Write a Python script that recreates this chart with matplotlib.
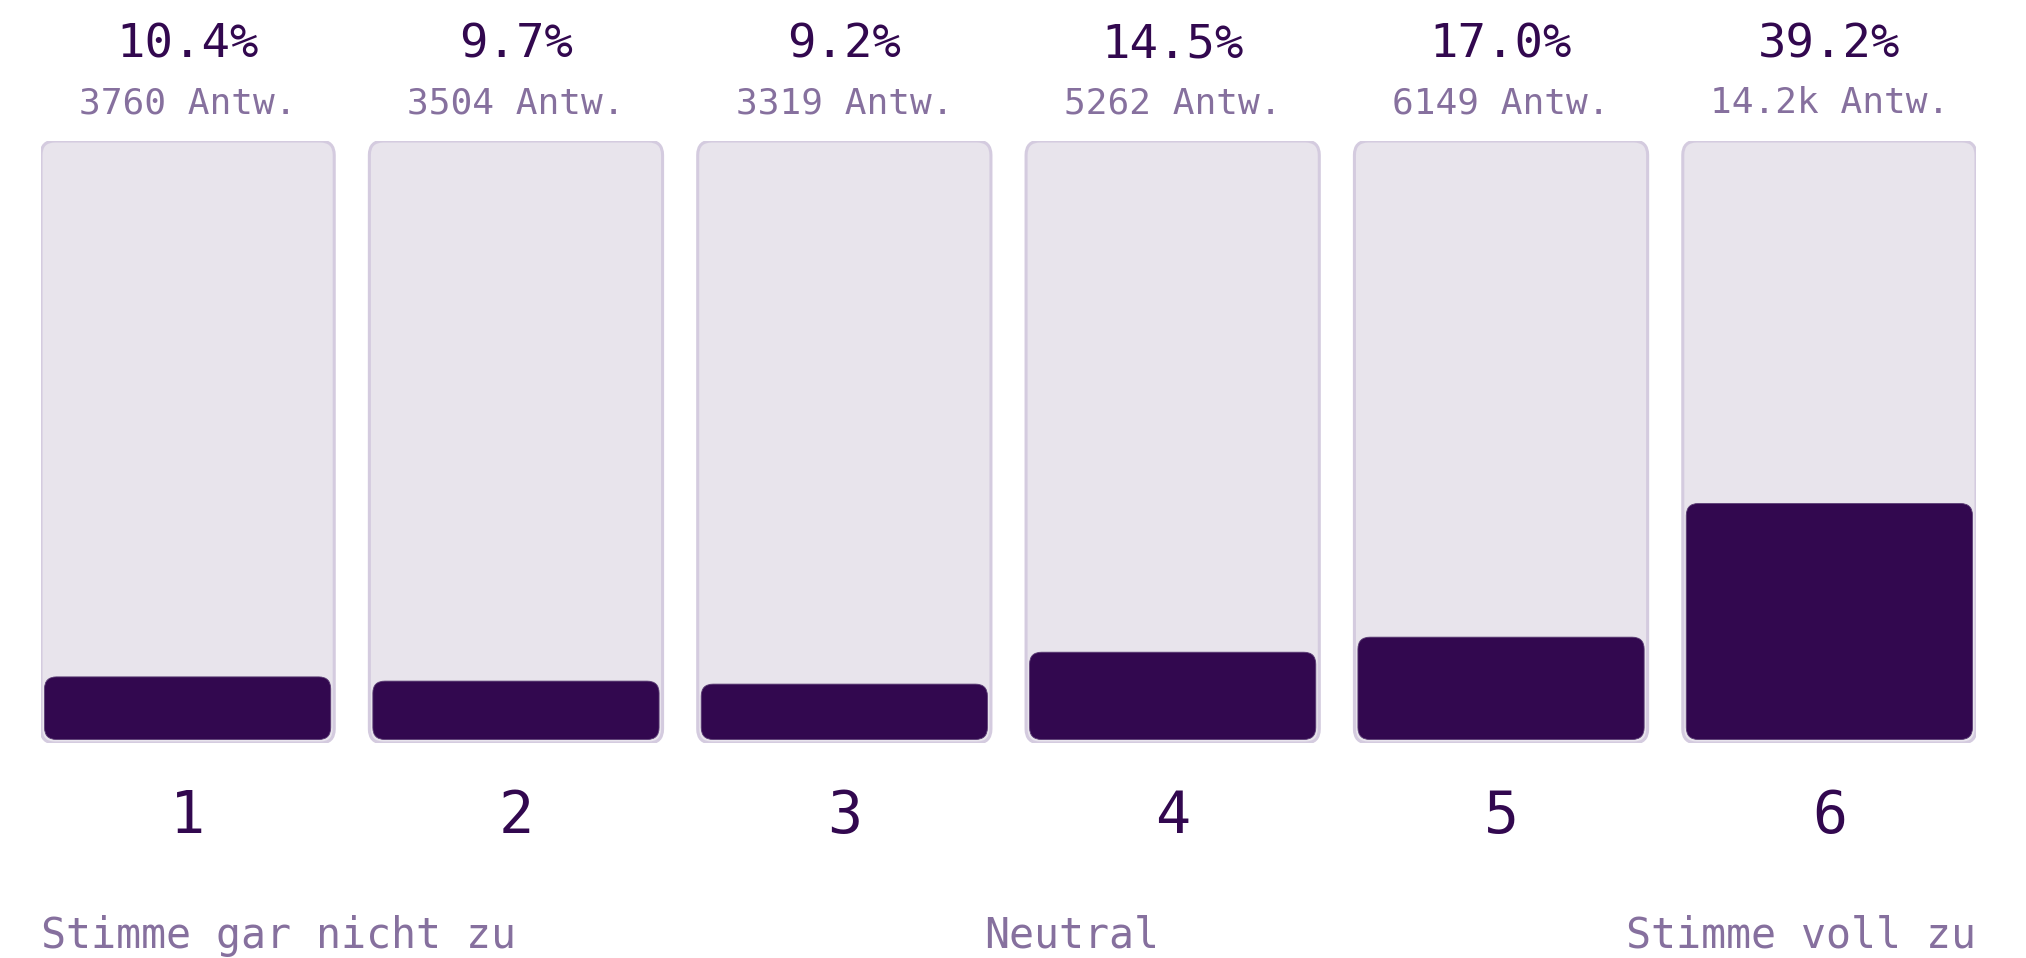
import matplotlib.pyplot as plt
from matplotlib.patches import FancyBboxPatch

categories = ['1', '2', '3', '4', '5', '6']
percent = [10.4, 9.7, 9.2, 14.5, 17.0, 39.2]
answers = [3760, 3504, 3319, 5262, 6149, 14200]
scale_labels = ['Stimme gar nicht zu', 'Neutral', 'Stimme voll zu']

DARK = '#32084f'
MUTED = '#86709e'
TRACK = '#e8e4ec'
TRACK_EDGE = '#d4cbdf'

W, H = 2026, 958
fig = plt.figure(figsize=(W / 100, H / 100), dpi=100)
plt.rcParams['font.family'] = ['DejaVu Sans Mono']

left_px, right_px, top_px, bot_px = 41, 1976, 141, 743
ax = fig.add_axes([left_px / W, 1 - bot_px / H, (right_px - left_px) / W, (bot_px - top_px) / H])
ax.axis('off')

width = 0.893
ax.set_xlim(-width / 2, len(categories) - 1 + width / 2)
ax.set_ylim(0, 100)

px_x = (right_px - left_px) / (len(categories) - 1 + width)  # px per x unit
px_y = (bot_px - top_px) / 100.0                             # px per y unit
aspect = px_x / px_y


def rbox(x0, y0, w, h, r_px, **kw):
    return FancyBboxPatch((x0, y0), w, h,
                          boxstyle=f"round,pad=0,rounding_size={r_px / px_x}",
                          mutation_aspect=aspect, **kw)


inset_x = 3.5 / px_x
inset_y = 3.5 / px_y
for i, p in enumerate(percent):
    ax.add_patch(rbox(i - width / 2, 0, width, 100, 14,
                      facecolor=TRACK, edgecolor=TRACK_EDGE, linewidth=2.2))
    ax.add_patch(rbox(i - width / 2 + inset_x, inset_y, width - 2 * inset_x, p, 12,
                      facecolor=DARK, edgecolor='#5a3c74', linewidth=0.6))

    n = answers[i]
    ntxt = f"{n / 1000:.1f}k" if n >= 10000 else str(n)
    tr = ax.get_xaxis_transform()
    ax.text(i, 1.1395, f"{p:.1f}%", transform=tr, ha='center', va='baseline',
            fontsize=34, color=DARK)
    ax.text(i, 1.0465, f"{ntxt} Antw.", transform=tr, ha='center', va='baseline',
            fontsize=26, color=MUTED)
    ax.text(i, -0.1495, categories[i], transform=tr, ha='center', va='baseline',
            fontsize=42, color=DARK)

# scale labels, spread like "space-between"
ax.text(0, -0.3405, scale_labels[0], transform=ax.transAxes, ha='left',
        va='baseline', fontsize=30, color=MUTED)
ax.text(1, -0.3405, scale_labels[2], transform=ax.transAxes, ha='right',
        va='baseline', fontsize=30, color=MUTED)
ax.text((1072 - left_px) / (right_px - left_px), -0.3405, scale_labels[1],
        transform=ax.transAxes, ha='center', va='baseline', fontsize=30, color=MUTED)

fig.savefig('out.png', dpi=100, facecolor='white')
